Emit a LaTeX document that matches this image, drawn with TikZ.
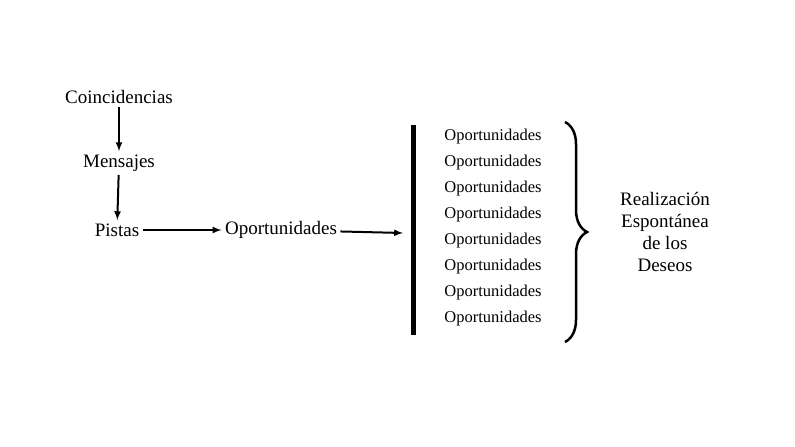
\documentclass[tikz,border=0pt]{standalone}
\usepackage{fontspec}
\setmainfont{Liberation Serif}
\usetikzlibrary{decorations.pathreplacing}
\begin{document}
\begin{tikzpicture}[x=1pt,y=-1pt,
  lbl/.style={font=\fontsize{19}{22}\selectfont},
  item/.style={font=\fontsize{16.5}{20}\selectfont},
  arr/.style={-latex, line width=2pt}]
  \useasboundingbox (0,0) rectangle (795,447);

  \node[lbl] (coin) at (119,97) {Coincidencias};
  \node[lbl] (mens) at (119,163) {Mensajes};
  \node[lbl] (pist) at (117,230) {Pistas};
  \node[lbl] (opor) at (281,230) {Oportunidades};
  \draw[arr] (coin) -- (mens);
  \draw[arr] (mens) -- (pist);
  \draw[arr] (pist) -- (opor);
  \coordinate (bar) at (403,233);
  \draw[arr] (opor) -- (bar);

  \draw[line width=5pt] (413,125) -- (413,335);
  \foreach \i in {0,...,7}
    \node[item] (op\i) at (493,137+26*\i) {Oportunidades};

  \draw[decorate, decoration={brace, amplitude=22pt}, line width=2.5pt]
    (565,122) -- (565,342);

  \node[lbl, align=center] (real) at (665,232)
    {Realización\\Espontánea\\de los\\Deseos};
\end{tikzpicture}
\end{document}
